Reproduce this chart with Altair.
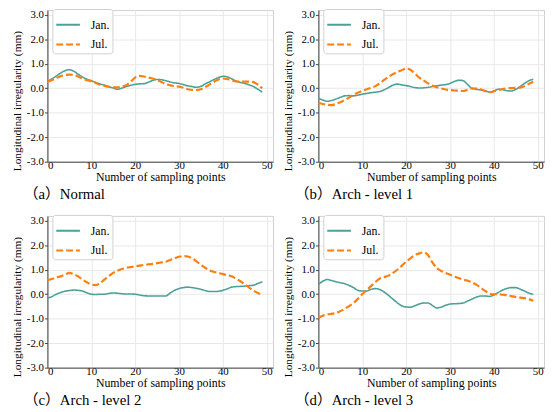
import altair as alt
import pandas as pd

x_points = list(range(50))

normal_jan = [0.29, 0.38, 0.5, 0.62, 0.72, 0.76, 0.7, 0.58, 0.46, 0.37,
              0.31, 0.24, 0.18, 0.13, 0.07, 0.01, -0.04, 0.01, 0.07, 0.12,
              0.16, 0.18, 0.19, 0.25, 0.32, 0.36, 0.35, 0.31, 0.26, 0.22,
              0.2, 0.15, 0.1, 0.07, 0.04, 0.08, 0.18, 0.27, 0.36, 0.44,
              0.49, 0.47, 0.39, 0.3, 0.24, 0.2, 0.14, 0.07, -0.04, -0.16]
normal_jul = [0.27, 0.33, 0.41, 0.49, 0.54, 0.56, 0.55, 0.48, 0.39, 0.33,
              0.29, 0.22, 0.15, 0.1, 0.06, 0.04, 0.04, 0.07, 0.13, 0.27,
              0.44, 0.51, 0.48, 0.44, 0.4, 0.34, 0.26, 0.17, 0.12, 0.09,
              0.07, 0.02, -0.04, -0.07, -0.07, -0.04, 0.05, 0.16, 0.27, 0.36,
              0.4, 0.38, 0.33, 0.28, 0.27, 0.27, 0.27, 0.25, 0.15, 0.0]

arch1_jan = [-0.4, -0.48, -0.53, -0.5, -0.44, -0.37, -0.31, -0.3, -0.31, -0.28,
             -0.24, -0.21, -0.18, -0.16, -0.13, -0.06, 0.03, 0.13, 0.17, 0.14,
             0.11, 0.07, 0.03, 0.01, 0.02, 0.04, 0.07, 0.1, 0.13, 0.15,
             0.2, 0.28, 0.33, 0.31, 0.16, 0.0, -0.04, -0.07, -0.1, -0.15,
             -0.11, -0.04, -0.06, -0.1, -0.11, -0.04, 0.07, 0.2, 0.31, 0.37]
arch1_jul = [-0.6, -0.64, -0.67, -0.69, -0.64, -0.57, -0.48, -0.38, -0.27, -0.18,
             -0.11, -0.04, 0.02, 0.09, 0.2, 0.34, 0.47, 0.58, 0.67, 0.74,
             0.8, 0.76, 0.6, 0.44, 0.32, 0.2, 0.11, 0.04, -0.01, -0.05,
             -0.07, -0.09, -0.1, -0.11, -0.06, 0.0, -0.01, -0.04, -0.11, -0.17,
             -0.12, -0.07, -0.03, 0.0, 0.01, 0.02, 0.03, 0.08, 0.18, 0.27]

arch2_jan = [-0.16, -0.1, 0.0, 0.07, 0.12, 0.15, 0.17, 0.16, 0.13, 0.06,
             0.0, -0.01, 0.0, 0.0, 0.03, 0.05, 0.04, 0.02, 0.01, 0.01,
             0.0, -0.03, -0.06, -0.07, -0.07, -0.07, -0.07, -0.07, 0.05, 0.16,
             0.23, 0.27, 0.29, 0.27, 0.24, 0.2, 0.15, 0.11, 0.11, 0.12,
             0.16, 0.22, 0.29, 0.31, 0.32, 0.33, 0.35, 0.37, 0.44, 0.51]
arch2_jul = [0.57, 0.62, 0.68, 0.73, 0.8, 0.87, 0.82, 0.73, 0.6, 0.49,
             0.4, 0.37, 0.45, 0.6, 0.74, 0.87, 0.96, 1.03, 1.08, 1.11,
             1.14, 1.17, 1.2, 1.22, 1.24, 1.27, 1.3, 1.33, 1.4, 1.47,
             1.53, 1.56, 1.54, 1.47, 1.34, 1.2, 1.08, 0.97, 0.91, 0.87,
             0.82, 0.78, 0.73, 0.64, 0.53, 0.4, 0.27, 0.15, 0.05, -0.04]

arch3_jan = [0.4, 0.53, 0.6, 0.56, 0.51, 0.47, 0.43, 0.36, 0.27, 0.16,
             0.13, 0.13, 0.2, 0.23, 0.19, 0.09, -0.05, -0.2, -0.35, -0.47,
             -0.52, -0.53, -0.47, -0.4, -0.36, -0.36, -0.46, -0.56, -0.53, -0.45,
             -0.4, -0.39, -0.38, -0.36, -0.28, -0.2, -0.12, -0.07, -0.07, -0.09,
             -0.03, 0.07, 0.17, 0.24, 0.27, 0.27, 0.21, 0.13, 0.05, 0.0]
arch3_jul = [-0.97, -0.88, -0.83, -0.8, -0.77, -0.69, -0.6, -0.49, -0.36, -0.19,
             0.0, 0.17, 0.33, 0.5, 0.64, 0.7, 0.76, 0.87, 1.0, 1.16,
             1.33, 1.47, 1.6, 1.67, 1.71, 1.6, 1.3, 1.07, 0.95, 0.87,
             0.8, 0.73, 0.66, 0.6, 0.55, 0.49, 0.39, 0.27, 0.14, 0.03,
             0.0, 0.0, -0.02, -0.04, -0.08, -0.11, -0.14, -0.16, -0.2, -0.27]

captions = ["（a）Normal", "（b）Arch - level 1", "（c）Arch - level 2", "（d）Arch - level 3"]
series_names = ["Jan.", "Jul."]
series_colors = ["#4aa198", "#ff7f0e"]
x_ticks = [0, 10, 20, 30, 40, 50]
y_ticks = [-3, -2, -1, 0, 1, 2, 3]

FONT = "'Liberation Serif', serif"
CAP_FONT = "'Liberation Serif', 'Noto Sans CJK SC', serif"


def make_legend():
    return alt.Legend(
        title=None, orient="none", legendX=5, legendY=-1,
        fillColor="white", strokeColor="#d0d0d0", cornerRadius=3,
        padding=3, symbolType="stroke", symbolSize=576, symbolStrokeWidth=2,
        labelFont=FONT, labelFontSize=12, labelOffset=10, labelColor="black",
        rowPadding=1,
    )


def panel(jan, jul, caption):
    df = pd.DataFrame({
        "x": x_points + x_points,
        "y": jan + jul,
        "series": [series_names[0]] * len(jan) + [series_names[1]] * len(jul),
    })
    return alt.Chart(df).mark_line(interpolate="monotone").encode(
        x=alt.X("x:Q", scale=alt.Scale(domain=[0, 51.45], nice=False, zero=False),
                axis=alt.Axis(values=x_ticks, format="d", title="Number of sampling points",
                              ticks=False, labelPadding=-2, titlePadding=1)),
        y=alt.Y("y:Q", scale=alt.Scale(domain=[-3, 3.2], nice=False),
                axis=alt.Axis(values=y_ticks, title="Longitudinal irregularity (mm)", titleY=92,
                              labelPadding=1,
                              labelExpr="datum.value < 0 ? '-' + format(-datum.value, '.1f') : format(datum.value, '.1f')")),
        color=alt.Color("series:N", scale=alt.Scale(domain=series_names, range=series_colors),
                        legend=make_legend()),
        strokeDash=alt.StrokeDash("series:N", scale=alt.Scale(domain=series_names, range=[[1, 0], [7, 3]]),
                                  legend=make_legend()),
        strokeWidth=alt.StrokeWidth("series:N", scale=alt.Scale(domain=series_names, range=[1.6, 2.2]),
                                    legend=None),
    ).properties(
        width=229, height=154,
        title=alt.TitleParams(text=caption, orient="bottom", anchor="start", frame="group",
                              dx=-24, offset=5, font=CAP_FONT, fontSize=15, fontWeight="normal",
                              color="black"),
    )


pa = panel(normal_jan, normal_jul, captions[0])
pb = panel(arch1_jan, arch1_jul, captions[1])
pc = panel(arch2_jan, arch2_jul, captions[2])
pd_ = panel(arch3_jan, arch3_jul, captions[3])

chart = alt.concat(
    pa, pb, pc, pd_, columns=2, spacing={"row": 55, "column": 46}, bounds="flush"
).resolve_legend(
    color="independent", strokeDash="independent"
).properties(
    padding={"left": 3, "top": -3, "right": 0, "bottom": 0}
).configure_view(
    stroke="#d0d0d0", strokeWidth=1
).configure_axis(
    domainColor="#444444", tickColor="#444444", tickSize=3, gridColor="#e8e8e8",
    labelFont=FONT, labelFontSize=11, labelColor="black",
    titleFont=FONT, titleFontSize=12, titleFontWeight="normal", titleColor="black",
).configure_axisY(
    titleFontSize=11.5, titlePadding=4,
)

chart.save("out.html", embed_options={"renderer": "svg", "actions": False})
